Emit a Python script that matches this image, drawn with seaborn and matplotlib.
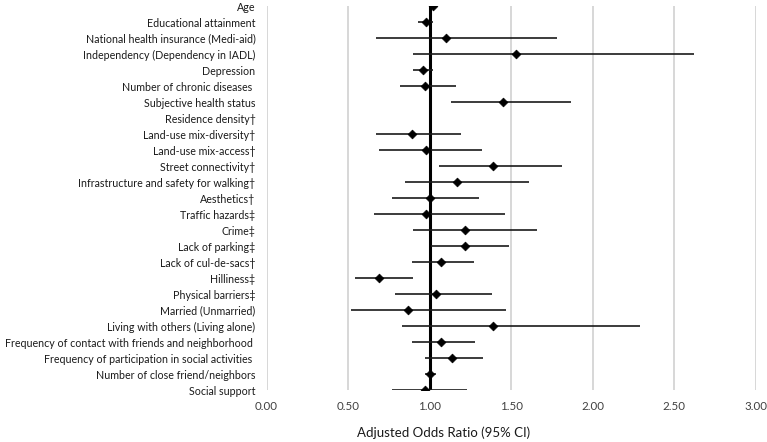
import numpy as np
import pandas as pd
import seaborn as sns
import matplotlib.pyplot as plt

labels = [
    "Age",
    "Educational attainment",
    "National health insurance (Medi-aid)",
    "Independency (Dependency in IADL)",
    "Depression",
    "Number of chronic diseases ",
    "Subjective health status",
    "Residence density\u2020",
    "Land-use mix-diversity\u2020",
    "Land-use mix-access\u2020",
    "Street connectivity\u2020",
    "Infrastructure and safety for walking\u2020",
    "Aesthetics\u2020",
    "Traffic hazards\u2021",
    "Crime\u2021",
    "Lack of parking\u2021",
    "Lack of cul-de-sacs\u2020",
    "Hilliness\u2021",
    "Physical barriers\u2021",
    "Married (Unmarried)",
    "Living with others (Living alone)",
    "Frequency of contact with friends and neighborhood ",
    "Frequency of participation in social activities ",
    "Number of close friend/neighbors",
    "Social support",
]
# adjusted odds ratios and 95% CI bounds (Residence density not shown)
aor = [1.02, 0.98, 1.10, 1.53, 0.96, 0.97, 1.45, np.nan, 0.89, 0.98, 1.39, 1.17, 1.00,
       0.98, 1.22, 1.22, 1.07, 0.69, 1.04, 0.87, 1.39, 1.07, 1.14, 1.00, 0.97]
ci_low = [1.00, 0.93, 0.67, 0.90, 0.90, 0.82, 1.13, np.nan, 0.67, 0.69, 1.06, 0.85, 0.77,
          0.66, 0.90, 1.01, 0.89, 0.54, 0.79, 0.52, 0.83, 0.89, 0.97, 0.97, 0.77]
ci_high = [1.04, 1.02, 1.78, 2.62, 1.02, 1.16, 1.87, np.nan, 1.19, 1.32, 1.81, 1.61, 1.30,
           1.46, 1.66, 1.49, 1.27, 0.90, 1.38, 1.47, 2.29, 1.28, 1.33, 1.04, 1.23]
x_ticks = [0.0, 0.5, 1.0, 1.5, 2.0, 2.5, 3.0]

df = pd.DataFrame({"variable": labels, "aor": aor, "lo": ci_low, "hi": ci_high})
df["pos"] = np.arange(len(df))

sns.set_style("white")
plt.rcParams["font.family"] = ["Lato", "DejaVu Sans"]

fig = plt.figure(figsize=(7.67, 4.42), dpi=100)
ax = fig.add_axes([0.3475, 0.1176, 0.6378, 0.8688])

for x in x_ticks:
    ax.axvline(x, color="#d4d4d4", lw=1.3, zorder=0)
ax.axvline(1.0, color="black", lw=2.2, zorder=1)

ax.hlines(df["pos"], df["lo"], df["hi"], color="#1a1a1a", lw=1.2, zorder=2)
sns.scatterplot(data=df, x="aor", y="pos", marker="D", s=20, color="black",
                edgecolor="black", linewidth=0.5, zorder=3, ax=ax, legend=False)

ax.set_xlim(0, 3)
ax.set_ylim(len(df) - 1, 0)
ax.set_xticks(x_ticks)
ax.set_xticklabels([f"{t:.2f}" for t in x_ticks], fontsize=8.3, color="#404040")
ax.set_yticks(df["pos"])
ax.set_yticklabels(df["variable"], fontsize=7.7, color="#1a1a1a")
ax.tick_params(axis="both", length=0)
ax.tick_params(axis="y", pad=8)
ax.tick_params(axis="x", pad=8)
ax.set_ylabel("")
ax.set_xlabel("Adjusted Odds Ratio (95% CI)", fontsize=9.5, color="#1a1a1a")
ax.xaxis.set_label_coords(0.361, -0.095)
for s in ax.spines.values():
    s.set_visible(False)

fig.savefig("out.png", dpi=100)
